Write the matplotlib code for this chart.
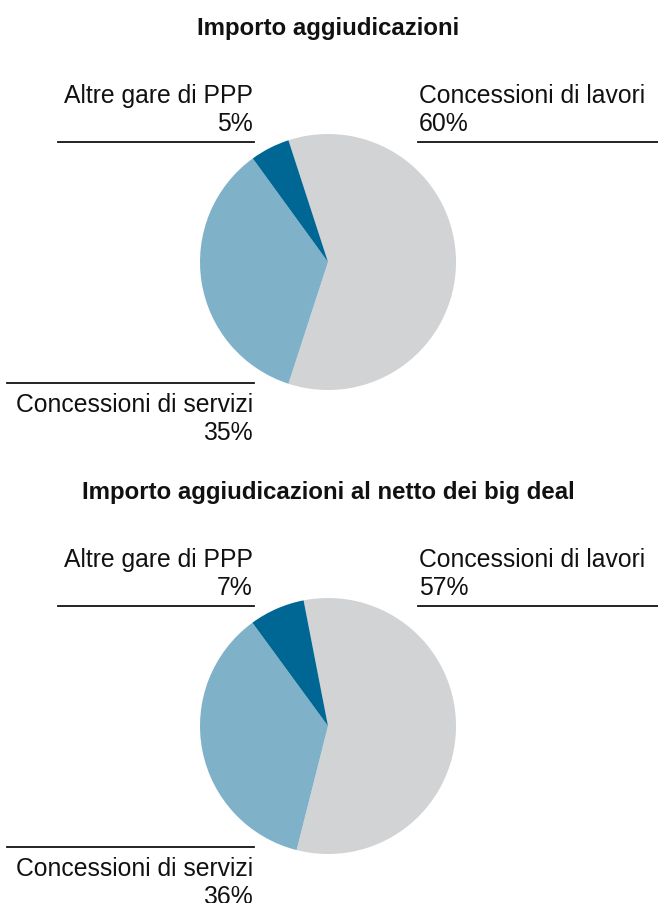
import matplotlib
matplotlib.use("Agg")
import matplotlib.pyplot as plt
from matplotlib.lines import Line2D

plt.rcParams["font.family"] = ["Liberation Sans", "DejaVu Sans"]

# Data
titles = ["Importo aggiudicazioni", "Importo aggiudicazioni al netto dei big deal"]
categories = ["Concessioni di lavori", "Concessioni di servizi", "Altre gare di PPP"]
shares_total = [60, 35, 5]
shares_net = [57, 36, 7]
colors = ["#d2d3d5", "#7fb2c9", "#006794"]

W, H = 658, 904
fig = plt.figure(figsize=(W / 100, H / 100), dpi=100)


def fx(x):
    return x / W


def fy(y):
    return 1 - y / H


def label(x, y, s, ha, bold=False, size=17.8):
    fig.text(fx(x), fy(y), s, ha=ha, va="baseline", fontsize=size,
             fontweight="bold" if bold else "normal", color="#111111")


def rule(x0, x1, y):
    fig.add_artist(Line2D([fx(x0), fx(x1)], [fy(y), fy(y)], color="#111111",
                          lw=1.3, transform=fig.transFigure))


def panel(top, title, shares, start):
    cx, cy, r = 328, top + 263, 128
    ax = fig.add_axes([fx(cx - r), fy(cy + r), 2 * r / W, 2 * r / H])
    ax.pie(shares, colors=colors, startangle=start, counterclock=False,
           radius=1, wedgeprops=dict(linewidth=0))
    ax.set_xlim(-1, 1)
    ax.set_ylim(-1, 1)
    ax.set_aspect("equal")
    ax.axis("off")

    label(328, top + 35, title, "center", bold=True, size=17.3)
    # lavori (right top)
    label(419, top + 103, categories[0], "left")
    label(419, top + 131, f"{shares[0]}%", "left")
    rule(418, 658, top + 143)
    # altre gare (left top)
    label(253, top + 103, categories[2], "right")
    label(253, top + 131, f"{shares[2]}%", "right")
    rule(58, 254, top + 143)
    # servizi (left bottom)
    label(253, top + 412, categories[1], "right")
    label(253, top + 440, f"{shares[1]}%", "right")
    rule(7, 254, top + 384)


panel(0, titles[0], shares_total, 108)
panel(464, titles[1], shares_net, 101)

fig.savefig("out.png", dpi=100)
